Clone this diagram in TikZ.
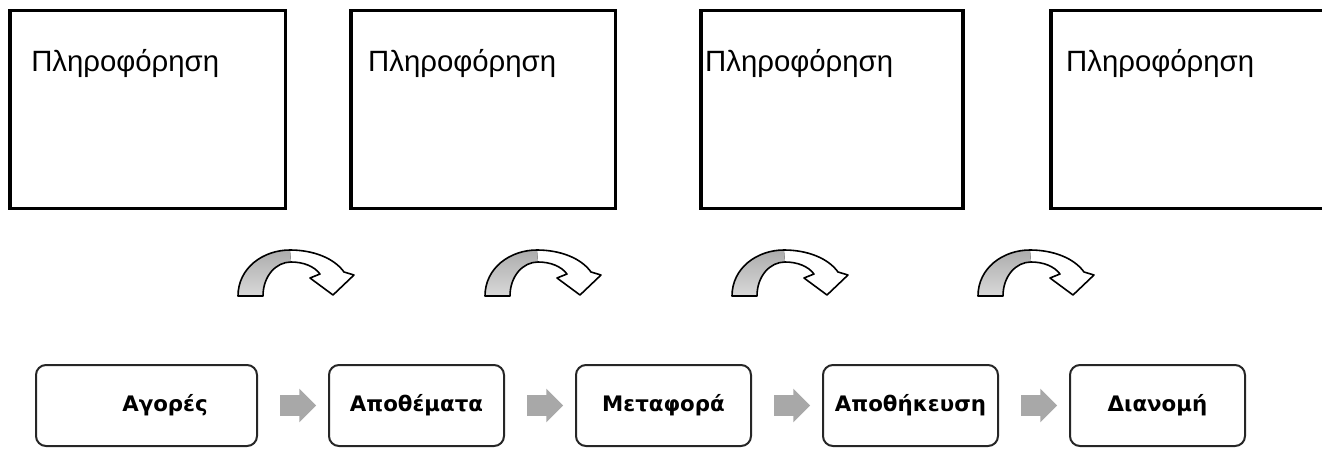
\documentclass[tikz,border=0pt]{standalone}
\usepackage{fontspec}
\setmainfont{Liberation Sans}
\newfontfamily\etapafont{DejaVu Sans}
\usetikzlibrary{positioning,shapes.arrows}
\definecolor{flechagris}{RGB}{168,168,168}
\tikzstyle{info}=[rectangle,draw=black,line width=2.4pt,outer sep=0,minimum height=148.5pt]
\tikzstyle{infotext}=[anchor=base west,inner sep=0,font=\fontsize{22}{26}\selectfont]
\tikzstyle{etapa}=[rectangle,rounded corners=7.5pt,draw=black!85,line width=1.5pt,outer sep=0,minimum width=131.25pt,minimum height=60.75pt,font=\etapafont\bfseries\fontsize{16}{19}\selectfont]
\tikzstyle{flecha}=[single arrow,fill=flechagris,draw=none,minimum height=27pt,inner xsep=0,inner ysep=7.5pt,single arrow head extend=4.875pt]
\tikzset{kampyli/.pic={
	\fill[top color=gray!65,bottom color=gray!30] (0,0) .. controls (0,28) and (25,46) .. (52,46) -- (53,34) .. controls (38,34) and (25,20) .. (25,0) -- cycle;
	\draw[line width=1.2pt,line join=round] (0,0) .. controls (0,28) and (25,46) .. (52,46) .. controls (75,46) and (96,38) .. (106,24) -- (116,21) -- (95,1) -- (72,18) -- (82,22) .. controls (76,30) and (65,34) .. (53,34) .. controls (38,34) and (25,20) .. (25,0) -- cycle;
}}

\begin{document}
\begin{tikzpicture}[x=0.75pt,y=0.75pt]
		\useasboundingbox (0,0) rectangle (1322,-450);
		\begin{scope}[node distance=49.1pt]
			\node[info,minimum width=206.6pt,anchor=north west]	(pliro1)	at (10,-10.5)	{};
			\node[info,minimum width=198.4pt]	(pliro2)	[right=of pliro1]	{};
			\node[info,minimum width=196.5pt,node distance=64.1pt]	(pliro3)	[right=of pliro2]	{};
			\node[info,minimum width=260pt,node distance=66pt]	(pliro4)	[right=of pliro3]	{};
		\end{scope}
		\node[infotext]	(keimeno1)	at ([xshift=15.75pt,yshift=-45.5pt]pliro1.north west)	{Πληροφόρηση};
		\node[infotext]	(keimeno2)	at ([xshift=12.75pt,yshift=-45.5pt]pliro2.north west)	{Πληροφόρηση};
		\node[infotext]	(keimeno3)	at ([xshift=3pt,yshift=-45.5pt]pliro3.north west)	{Πληροφόρηση};
		\node[infotext]	(keimeno4)	at ([xshift=11.25pt,yshift=-45.5pt]pliro4.north west)	{Πληροφόρηση};
		
		\foreach \x in {238,485,732,978}
			\pic at (\x,-296) {kampyli};
		
		\begin{scope}[node distance=54pt]
			\node[etapa,minimum width=165.75pt,anchor=west]	(agores)	at (36,-405.5)	{\hspace*{27.75pt}Αγορές};
			\node[etapa]	(apothemata)	[right=of agores]	{Αποθέματα};
			\node[etapa]	(metafora)	[right=of apothemata]	{Μεταφορά};
			\node[etapa]	(apothikeusi)	[right=of metafora]	{Αποθήκευση};
			\node[etapa]	(dianomi)	[right=of apothikeusi]	{Διανομή};
			
			\foreach \a/\b in {agores/apothemata,apothemata/metafora,metafora/apothikeusi,apothikeusi/dianomi}
				\path (\a) -- node[flecha] {} (\b);
		\end{scope}
\end{tikzpicture}
\end{document}
